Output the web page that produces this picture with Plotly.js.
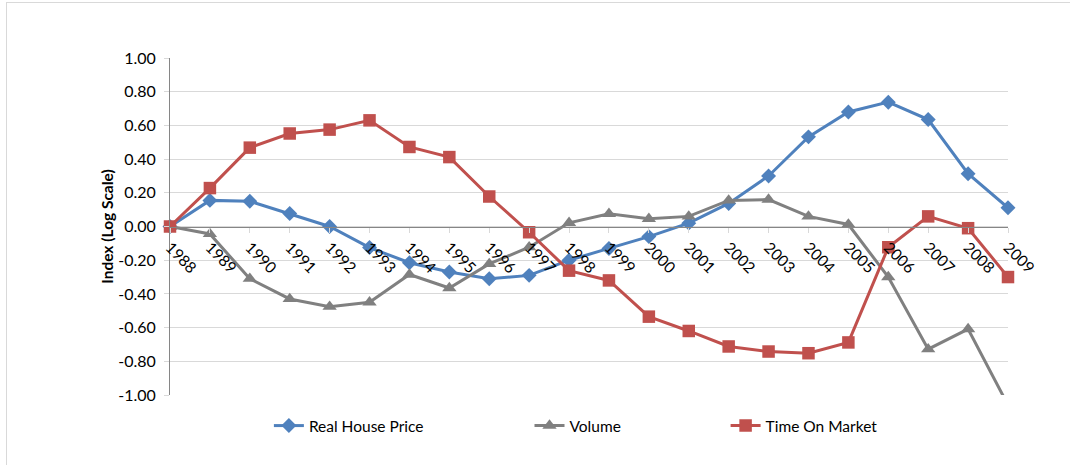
<!DOCTYPE html>
<html>
<head>
<meta charset="utf-8">
<script src="https://cdn.plot.ly/plotly-3.0.1.min.js"></script>
<style>html,body{margin:0;padding:0;background:#fff;}#chart{width:1070px;height:465px;}</style>
</head>
<body>
<div id="chart"></div>
<script>
var years = [1988,1989,1990,1991,1992,1993,1994,1995,1996,1997,1998,1999,2000,2001,2002,2003,2004,2005,2006,2007,2008,2009];
var realHousePrice = [0.00,0.155,0.150,0.077,0.000,-0.125,-0.215,-0.270,-0.310,-0.290,-0.200,-0.130,-0.060,0.020,0.137,0.300,0.532,0.680,0.738,0.635,0.313,0.111];
var volume = [0.00,-0.044,-0.310,-0.430,-0.476,-0.450,-0.285,-0.365,-0.222,-0.123,0.022,0.075,0.046,0.060,0.155,0.160,0.060,0.012,-0.300,-0.728,-0.609,-1.060];
var timeOnMarket = [0.00,0.228,0.468,0.552,0.575,0.630,0.472,0.412,0.178,-0.034,-0.262,-0.320,-0.535,-0.620,-0.712,-0.742,-0.752,-0.688,-0.123,0.060,-0.010,-0.300];
var seriesNames = ["Real House Price","Volume","Time On Market"];
var yTickVals = [-1,-0.8,-0.6,-0.4,-0.2,0,0.2,0.4,0.6,0.8,1];
var yTickText = ["-1.00","-0.80","-0.60","-0.40","-0.20","0.00","0.20","0.40","0.60","0.80","1.00"];

var FONT = "Lato, 'Open Sans', sans-serif";
var traces = [
  {x: years, y: realHousePrice, name: seriesNames[0], type: 'scatter', mode: 'lines+markers',
   line: {color: '#4F81BD', width: 3}, marker: {symbol: 'diamond', size: 11.5, color: '#4F81BD'},
   cliponaxis: false, legend: 'legend'},
  {x: years, y: volume, name: seriesNames[1], type: 'scatter', mode: 'lines+markers',
   line: {color: '#808080', width: 3}, marker: {symbol: 'triangle-up', size: 12.5, color: '#808080'},
   cliponaxis: true, legend: 'legend2'},
  {x: years, y: timeOnMarket, name: seriesNames[2], type: 'scatter', mode: 'lines+markers',
   line: {color: '#C0504D', width: 3}, marker: {symbol: 'square', size: 12.5, color: '#C0504D'},
   cliponaxis: false, legend: 'legend3'}
];

function legendCfg(x) {
  return {x: x, y: -0.092, xanchor: 'left', yanchor: 'middle', orientation: 'h',
          font: {family: FONT, size: 15.5, color: '#000'}, bgcolor: 'rgba(0,0,0,0)', itemwidth: 30};
}

var layout = {
  width: 1070, height: 465,
  margin: {l: 170, r: 62, t: 58, b: 70},
  paper_bgcolor: '#fff', plot_bgcolor: '#fff',
  font: {family: FONT, color: '#000'},
  showlegend: true,
  legend: legendCfg(0.118),
  legend2: legendCfg(0.429),
  legend3: legendCfg(0.663),
  xaxis: {
    type: 'linear', range: [1988, 2009], tickmode: 'array', tickvals: years,
    ticktext: years.map(String), tickangle: 45,
    anchor: 'free', position: 0.5,
    showline: true, linecolor: '#868686', linewidth: 1,
    showgrid: false, zeroline: false,
    ticks: 'outside', ticklen: 5, tickcolor: '#d9d9d9',
    tickfont: {family: FONT, size: 15.5, color: '#000'}
  },
  yaxis: {
    range: [-1, 1], tickmode: 'array', tickvals: yTickVals, ticktext: yTickText,
    showgrid: true, gridcolor: '#d9d9d9', gridwidth: 1,
    zeroline: false, showline: true, linecolor: '#868686', linewidth: 1,
    ticks: 'outside', ticklen: 5, tickcolor: '#d9d9d9', ticklabelstandoff: 5,
    tickfont: {family: FONT, size: 16, color: '#000'},
    title: {text: '<b>Index (Log Scale)</b>', font: {family: FONT, size: 15.5, color: '#000'}, standoff: 0}
  },
  shapes: [
    {type: 'line', xref: 'paper', yref: 'paper', x0: (6-170)/838, x1: (1075-170)/838, y0: (395-2.5)/337, y1: (395-2.5)/337,
     line: {color: '#d9d9d9', width: 1}},
    {type: 'line', xref: 'paper', yref: 'paper', x0: (6.5-170)/838, x1: (6.5-170)/838, y0: (395-2)/337, y1: (395-470)/337,
     line: {color: '#d9d9d9', width: 1}}
  ]
};

Plotly.newPlot('chart', traces, layout, {displayModeBar: false, staticPlot: true});
</script>
</body>
</html>
